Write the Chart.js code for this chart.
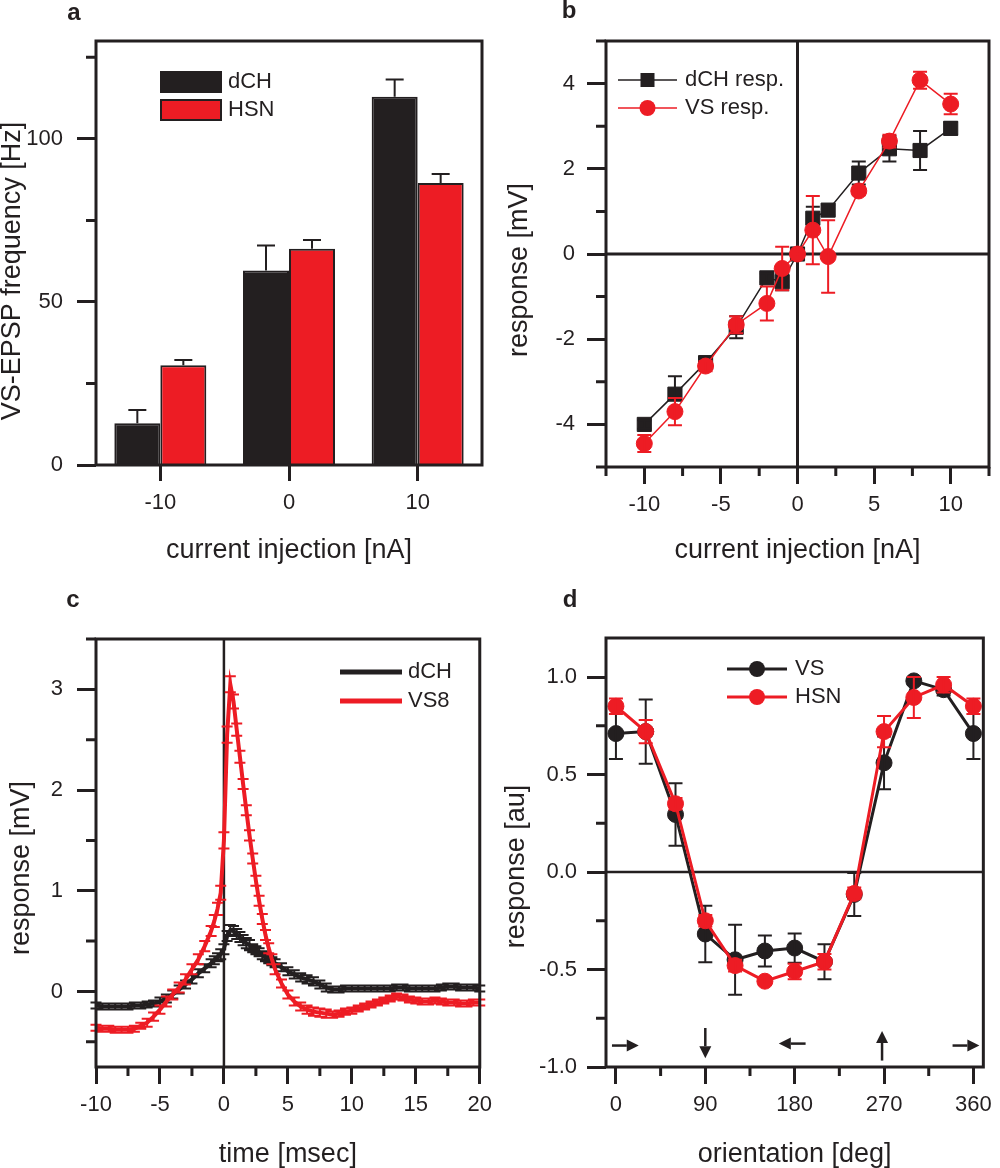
<!DOCTYPE html>
<html>
<head>
<meta charset="utf-8">
<title>Current injection and orientation responses</title>
<script src="https://cdn.jsdelivr.net/npm/chart.js@4.4.1/dist/chart.umd.min.js"></script>
<style>
  html, body { margin: 0; padding: 0; background: #fff; }
  #figure { position: relative; width: 1000px; height: 1168px; overflow: hidden; }
  #figure canvas { position: absolute; }
  #chartA { left: 0; top: 0; }
  #chartB { left: 500px; top: 0; }
  #chartC { left: 0; top: 580px; }
  #chartD { left: 500px; top: 580px; }
</style>
</head>
<body>
<div id="figure">
  <canvas id="chartA" width="500" height="580"></canvas>
  <canvas id="chartB" width="500" height="580"></canvas>
  <canvas id="chartC" width="500" height="588"></canvas>
  <canvas id="chartD" width="500" height="588"></canvas>
</div>
<script>
// --- a: VS-EPSP frequency vs current injection ---
const aCategories = ['-10', '0', '10'];
const aDch = [12.8, 59.6, 112.9];
const aDchErr = [4.1, 7.7, 5.3];
const aHsn = [30.6, 66.3, 86.5];
const aHsnErr = [1.6, 2.7, 2.7];
const aYTicks = [0, 50, 100];
const aYMinor = [25, 75, 125];

// --- b: responses vs current injection ---
const bCurrent = [-10, -8, -6, -4, -2, -1, 0, 1, 2, 4, 6, 8, 10];
const bDch = [-4.0, -3.29, -2.55, -1.72, -0.56, -0.65, 0, 0.84, 1.03, 1.9, 2.47, 2.43, 2.95];
const bDchErr = [0.1, 0.42, 0.1, 0.26, 0.1, 0.2, 0.05, 0.27, 0.12, 0.27, 0.3, 0.46, 0.15];
const bVs = [-4.45, -3.7, -2.63, -1.66, -1.16, -0.34, 0, 0.56, -0.06, 1.48, 2.65, 4.08, 3.52];
const bVsErr = [0.2, 0.32, 0.12, 0.2, 0.4, 0.51, 0.05, 0.8, 0.85, 0.1, 0.15, 0.2, 0.24];
const bXTicks = [-10, -5, 0, 5, 10];
const bXMinor = [-12.5, -7.5, -2.5, 2.5, 7.5, 12.5];
const bYTicks = [-4, -2, 0, 2, 4];
const bYMinor = [-5, -3, -1, 1, 3, 5];

// --- c: spike-triggered averages ---
const cTime = [-10, -9.5, -9, -8.5, -8, -7.5, -7, -6.5, -6, -5.5, -5, -4.5, -4, -3.5, -3, -2.5, -2, -1.5, -1,
  -0.75, -0.5, -0.25, 0, 0.25, 0.5, 0.75, 1, 1.25, 1.5, 1.75, 2, 2.25, 2.5, 2.75, 3, 3.25, 3.5, 3.75, 4,
  4.5, 5, 5.5, 6, 6.5, 7, 7.5, 8, 8.5, 9, 9.5, 10, 10.5, 11, 11.5, 12, 12.5, 13, 13.5, 14, 14.5, 15, 15.5,
  16, 16.5, 17, 17.5, 18, 18.5, 19, 19.5, 20];
const cDch = [-0.14, -0.15, -0.15, -0.15, -0.15, -0.15, -0.14, -0.14, -0.13, -0.12, -0.1, -0.07, -0.03, 0.02, 0.07, 0.12, 0.18, 0.23, 0.28,
  0.31, 0.34, 0.37, 0.42, 0.55, 0.61, 0.6, 0.57, 0.54, 0.51, 0.48, 0.46, 0.43, 0.41, 0.39, 0.36, 0.34, 0.32, 0.3, 0.28,
  0.24, 0.2, 0.17, 0.14, 0.12, 0.1, 0.07, 0.04, 0.02, 0.02, 0.03, 0.03, 0.03, 0.03, 0.03, 0.03, 0.03, 0.03, 0.04, 0.04, 0.03, 0.03, 0.03,
  0.03, 0.03, 0.04, 0.05, 0.05, 0.04, 0.04, 0.04, 0.03];
const cDchErr = [0.03, 0.03, 0.03, 0.03, 0.03, 0.03, 0.03, 0.03, 0.03, 0.03, 0.04, 0.04, 0.04, 0.04, 0.04, 0.04, 0.04, 0.04, 0.04,
  0.04, 0.04, 0.05, 0.05, 0.05, 0.05, 0.05, 0.05, 0.05, 0.05, 0.05, 0.05, 0.04, 0.04, 0.04, 0.04, 0.04, 0.04, 0.04, 0.04,
  0.04, 0.04, 0.04, 0.04, 0.04, 0.04, 0.04, 0.04, 0.03, 0.03, 0.03, 0.03, 0.03, 0.03, 0.03, 0.03, 0.03, 0.03, 0.03, 0.03, 0.03, 0.03, 0.03,
  0.03, 0.03, 0.03, 0.03, 0.03, 0.03, 0.03, 0.03, 0.03];
const cVs8 = [-0.36, -0.37, -0.37, -0.38, -0.38, -0.38, -0.37, -0.34, -0.31, -0.25, -0.18, -0.1, -0.03, 0.04, 0.12, 0.22, 0.32, 0.45, 0.6,
  0.7, 0.82, 0.98, 1.5, 2.55, 3.05, 2.88, 2.6, 2.33, 2.06, 1.8, 1.55, 1.32, 1.1, 0.9, 0.72, 0.56, 0.43, 0.32, 0.22,
  0.08, -0.03, -0.1, -0.15, -0.18, -0.2, -0.21, -0.22, -0.23, -0.22, -0.2, -0.19, -0.17, -0.15, -0.13, -0.11, -0.09, -0.07, -0.05, -0.06, -0.08, -0.09, -0.1,
  -0.1, -0.09, -0.1, -0.11, -0.11, -0.12, -0.12, -0.11, -0.11];
const cVs8Err = [0.03, 0.03, 0.03, 0.03, 0.03, 0.03, 0.03, 0.03, 0.04, 0.04, 0.04, 0.05, 0.05, 0.05, 0.05, 0.05, 0.05, 0.05, 0.05,
  0.06, 0.06, 0.07, 0.08, 0.08, 0.08, 0.07, 0.06, 0.06, 0.05, 0.05, 0.05, 0.05, 0.05, 0.05, 0.05, 0.05, 0.05, 0.05, 0.05,
  0.04, 0.04, 0.04, 0.04, 0.04, 0.04, 0.04, 0.04, 0.03, 0.03, 0.03, 0.03, 0.03, 0.03, 0.03, 0.03, 0.03, 0.03, 0.03, 0.03, 0.03, 0.03, 0.03,
  0.03, 0.03, 0.03, 0.03, 0.03, 0.03, 0.03, 0.03, 0.03];
const cXTicks = [-10, -5, 0, 5, 10, 15, 20];
const cXMinor = [-7.5, -2.5, 2.5, 7.5, 12.5, 17.5];
const cYTicks = [0, 1, 2, 3];
const cYMinor = [-0.5, 0.5, 1.5, 2.5, 3.5];

// --- d: orientation tuning ---
const dOrientation = [0, 30, 60, 90, 120, 150, 180, 210, 240, 270, 300, 330, 360];
const dVs = [0.71, 0.72, 0.295, -0.318, -0.45, -0.405, -0.39, -0.46, -0.115, 0.56, 0.98, 0.935, 0.71];
const dVsErr = [0.13, 0.165, 0.16, 0.145, 0.18, 0.08, 0.075, 0.09, 0.11, 0.135, 0.02, 0.03, 0.13];
const dHsn = [0.85, 0.72, 0.35, -0.25, -0.48, -0.56, -0.51, -0.46, -0.11, 0.72, 0.895, 0.96, 0.85];
const dHsnErr = [0.04, 0.06, 0.03, 0.03, 0.03, 0.02, 0.04, 0.04, 0.03, 0.08, 0.105, 0.04, 0.04];
const dXTicks = [0, 90, 180, 270, 360];
const dXMinor = [45, 135, 225, 315];
const dYTicks = [-1, -0.5, 0, 0.5, 1];
const dYMinor = [-0.75, -0.25, 0.25, 0.75];

const INK = '#231f20';
const RED = '#ed1c24';
const FONT = "'Liberation Sans', Arial, sans-serif";

Chart.defaults.font.family = FONT;
Chart.defaults.color = INK;
Chart.defaults.animation = false;

const points = (xs, ys) => xs.map((x, i) => ({ x: x, y: ys[i] }));

// error bars, drawn from each dataset's own errors array
function drawErrors(chart, args, layer) {
    const ds = chart.data.datasets[args.index];
    if (!ds.errors || (ds.errorLayer || 'after') !== layer) return;
    const { ctx } = chart;
    const yScale = chart.scales[args.meta.yAxisID];
    const half = ds.errorCap / 2;
    ctx.save();
    ctx.strokeStyle = ds.errorColor;
    ctx.lineWidth = ds.errorWidth;
    ctx.beginPath();
    args.meta.data.forEach((el, i) => {
        const v = args.meta.controller.getParsed(i).y;
        const top = yScale.getPixelForValue(v + ds.errors[i]);
        const bot = ds.errorUpOnly ? el.y : yScale.getPixelForValue(v - ds.errors[i]);
        ctx.moveTo(el.x, top); ctx.lineTo(el.x, bot);
        ctx.moveTo(el.x - half, top); ctx.lineTo(el.x + half, top);
        if (!ds.errorUpOnly) { ctx.moveTo(el.x - half, bot); ctx.lineTo(el.x + half, bot); }
    });
    ctx.stroke();
    ctx.restore();
}

const errorBarPlugin = {
    id: 'errorBars',
    beforeDatasetDraw(chart, args) { drawErrors(chart, args, 'before'); },
    afterDatasetDraw(chart, args) { drawErrors(chart, args, 'after'); }
};

function drawLegend(ctx, lg) {
    ctx.font = '22px ' + FONT;
    ctx.textAlign = 'left';
    ctx.textBaseline = 'middle';
    lg.items.forEach((it, i) => {
        const cy = lg.y + i * lg.gap;
        if (lg.kind === 'box') {
            ctx.fillStyle = it.color;
            ctx.fillRect(lg.x, cy - 10, lg.len, 20);
            ctx.lineWidth = 2;
            ctx.strokeStyle = INK;
            ctx.strokeRect(lg.x, cy - 10, lg.len, 20);
        } else {
            ctx.strokeStyle = it.color;
            ctx.lineWidth = lg.width;
            ctx.beginPath(); ctx.moveTo(lg.x, cy); ctx.lineTo(lg.x + lg.len, cy); ctx.stroke();
            ctx.fillStyle = it.color;
            const mx = lg.x + lg.len / 2;
            if (it.marker === 'rect') ctx.fillRect(mx - 7, cy - 7, 14, 14);
            if (it.marker === 'circle') { ctx.beginPath(); ctx.arc(mx, cy, 8, 0, Math.PI * 2); ctx.fill(); }
        }
        ctx.fillStyle = INK;
        ctx.fillText(it.label, lg.x + lg.len + lg.textGap, cy);
    });
}

// frame, minor ticks, zero lines, arrows, legend, y title and panel letter
const panelPlugin = {
    id: 'panel',
    beforeDatasetsDraw(chart, args, opts) {
        const { ctx, chartArea: area, scales } = chart;
        ctx.save();
        ctx.strokeStyle = INK;
        (opts.zeroLines || []).forEach(z => {
            ctx.lineWidth = z.width;
            ctx.beginPath();
            if (z.axis === 'x') {
                const px = scales.x.getPixelForValue(0);
                ctx.moveTo(px, area.top); ctx.lineTo(px, area.bottom);
            } else {
                const py = scales.y.getPixelForValue(0);
                ctx.moveTo(area.left, py); ctx.lineTo(area.right, py);
            }
            ctx.stroke();
        });
        ctx.restore();
    },
    afterDraw(chart, args, opts) {
        const { ctx, chartArea: area, scales: { x, y } } = chart;
        ctx.save();
        ctx.strokeStyle = INK;
        ctx.fillStyle = INK;
        ctx.lineWidth = 3;
        ctx.strokeRect(area.left, area.top, area.right - area.left, area.bottom - area.top);
        ctx.beginPath();
        (opts.minorX || []).forEach(v => {
            const px = x.getPixelForValue(v);
            ctx.moveTo(px, area.bottom); ctx.lineTo(px, area.bottom + 9);
        });
        (opts.minorY || []).forEach(v => {
            const py = y.getPixelForValue(v);
            ctx.moveTo(area.left, py); ctx.lineTo(area.left - 10, py);
        });
        ctx.stroke();

        (opts.arrows || []).forEach(([x1, y1, x2, y2]) => {
            const p1 = { x: x.getPixelForValue(x1), y: y.getPixelForValue(y1) };
            const p2 = { x: x.getPixelForValue(x2), y: y.getPixelForValue(y2) };
            const ang = Math.atan2(p2.y - p1.y, p2.x - p1.x);
            const head = 12, wing = 6;
            const bx = p2.x - head * Math.cos(ang), by = p2.y - head * Math.sin(ang);
            ctx.lineWidth = 2.5;
            ctx.beginPath(); ctx.moveTo(p1.x, p1.y); ctx.lineTo(bx, by); ctx.stroke();
            ctx.beginPath();
            ctx.moveTo(p2.x, p2.y);
            ctx.lineTo(bx - wing * Math.sin(ang), by + wing * Math.cos(ang));
            ctx.lineTo(bx + wing * Math.sin(ang), by - wing * Math.cos(ang));
            ctx.closePath();
            ctx.fill();
        });

        if (opts.legend) drawLegend(ctx, opts.legend);

        // vertical axis title, centred a little below the axis middle as in the original
        const t = opts.yTitle;
        ctx.fillStyle = INK;
        ctx.font = '27px ' + FONT;
        ctx.textAlign = 'center';
        ctx.textBaseline = 'middle';
        ctx.save();
        ctx.translate(t.x, (area.top + area.bottom) / 2 + t.shift);
        ctx.rotate(-Math.PI / 2);
        ctx.fillText(t.text, 0, 0);
        ctx.restore();

        ctx.font = 'bold 24px ' + FONT;
        ctx.fillText(opts.letter.text, opts.letter.x, opts.letter.y);
        ctx.restore();
    }
};

function axisX(o) {
    const axis = {
        type: o.type,
        afterFit: s => { s.height = o.size; },
        grid: { drawOnChartArea: false, drawTicks: true, tickLength: o.tick, tickWidth: 3, tickColor: INK, offset: false },
        border: { display: false },
        ticks: { padding: o.pad, font: { size: 22 }, color: INK, maxRotation: 0, autoSkip: false },
        title: { display: true, text: o.title, color: INK, font: { size: 27, lineHeight: 1 }, padding: { top: 0, bottom: o.titlePad } }
    };
    if (o.type === 'category') {
        axis.offset = true;
    } else {
        axis.min = o.min;
        axis.max = o.max;
        axis.afterBuildTicks = s => { s.ticks = o.major.map(v => ({ value: v })); };
    }
    if (o.format) axis.ticks.callback = o.format;
    return axis;
}

function axisY(o) {
    const axis = {
        type: 'linear',
        min: o.min,
        max: o.max,
        afterFit: s => { s.width = o.size; },
        afterBuildTicks: s => { s.ticks = o.major.map(v => ({ value: v })); },
        grid: { drawOnChartArea: false, drawTicks: true, tickLength: 19, tickWidth: 3, tickColor: INK },
        border: { display: false },
        ticks: { padding: o.pad, font: { size: 22 }, color: INK },
        title: { display: false }
    };
    if (o.format) axis.ticks.callback = o.format;
    return axis;
}

function baseOptions(padTop, padRight, panel) {
    return {
        responsive: false,
        layout: { padding: { top: padTop, right: padRight, left: 0, bottom: 0 } },
        plugins: { legend: { display: false }, tooltip: { enabled: false }, panel: panel }
    };
}

document.addEventListener('DOMContentLoaded', () => {

    // a. grouped bars with upward error bars
    new Chart(document.getElementById('chartA'), {
        type: 'bar',
        data: {
            labels: aCategories,
            datasets: [
                { label: 'dCH', data: aDch, backgroundColor: INK, borderColor: INK, borderWidth: 2,
                  errors: aDchErr, errorUpOnly: true, errorCap: 18, errorWidth: 2, errorColor: INK },
                { label: 'HSN', data: aHsn, backgroundColor: RED, borderColor: INK, borderWidth: 2,
                  errors: aHsnErr, errorUpOnly: true, errorCap: 18, errorWidth: 2, errorColor: INK }
            ]
        },
        options: {
            ...baseOptions(41, 18, {
                minorY: aYMinor,
                yTitle: { text: 'VS-EPSP frequency [Hz]', x: 13, shift: 18 },
                letter: { text: 'a', x: 74, y: 13 },
                legend: { kind: 'box', x: 161, y: 82, gap: 28, len: 60, textGap: 7,
                          items: [{ label: 'dCH', color: INK }, { label: 'HSN', color: RED }] }
            }),
            datasets: { bar: { categoryPercentage: 0.715, barPercentage: 1 } },
            scales: {
                x: axisX({ type: 'category', size: 115, tick: 16, pad: 9, title: 'current injection [nA]', titlePad: 16 }),
                y: axisY({ min: 0, max: 130, major: aYTicks, size: 96, pad: 14 })
            }
        },
        plugins: [panelPlugin, errorBarPlugin]
    });

    // b. current-response relations
    new Chart(document.getElementById('chartB'), {
        type: 'line',
        data: {
            datasets: [
                { label: 'dCH resp.', data: points(bCurrent, bDch), borderColor: INK, backgroundColor: INK, borderWidth: 1.5,
                  pointStyle: 'rect', pointRadius: 10, pointBorderWidth: 1, order: 1,
                  errors: bDchErr, errorCap: 14, errorWidth: 2, errorColor: INK },
                { label: 'VS resp.', data: points(bCurrent, bVs), borderColor: RED, backgroundColor: RED, borderWidth: 1.5,
                  pointStyle: 'circle', pointRadius: 8, pointBorderWidth: 1, order: 0,
                  errors: bVsErr, errorCap: 14, errorWidth: 2, errorColor: RED }
            ]
        },
        options: {
            ...baseOptions(41, 8, {
                minorX: bXMinor,
                minorY: bYMinor,
                zeroLines: [{ axis: 'x', width: 3 }, { axis: 'y', width: 3 }],
                yTitle: { text: 'response [mV]', x: 20, shift: 16 },
                letter: { text: 'b', x: 69, y: 11 },
                legend: { kind: 'line', x: 118, y: 80, gap: 28, len: 59, width: 1.5, textGap: 8,
                          items: [{ label: 'dCH resp.', color: INK, marker: 'rect' }, { label: 'VS resp.', color: RED, marker: 'circle' }] }
            }),
            scales: {
                x: axisX({ type: 'linear', min: -12.5, max: 12.5, major: bXTicks, size: 113, tick: 17, pad: 8, title: 'current injection [nA]', titlePad: 16 }),
                y: axisY({ min: -5, max: 5, major: bYTicks, size: 106, pad: 12 })
            }
        },
        plugins: [panelPlugin, errorBarPlugin]
    });

    // c. averaged responses around the spike
    new Chart(document.getElementById('chartC'), {
        type: 'line',
        data: {
            datasets: [
                { label: 'dCH', data: points(cTime, cDch), borderColor: INK, borderWidth: 4, pointRadius: 0, order: 1,
                  errors: cDchErr, errorLayer: 'before', errorCap: 11, errorWidth: 2, errorColor: INK },
                { label: 'VS8', data: points(cTime, cVs8), borderColor: RED, borderWidth: 4, pointRadius: 0, order: 0,
                  errors: cVs8Err, errorLayer: 'before', errorCap: 11, errorWidth: 2, errorColor: RED }
            ]
        },
        options: {
            ...baseOptions(59, 18, {
                minorX: cXMinor,
                minorY: cYMinor,
                zeroLines: [{ axis: 'x', width: 2.5 }],
                yTitle: { text: 'response [mV]', x: 22, shift: 15 },
                letter: { text: 'c', x: 73, y: 20 },
                legend: { kind: 'line', x: 340, y: 92, gap: 29, len: 62, width: 5, textGap: 6,
                          items: [{ label: 'dCH', color: INK }, { label: 'VS8', color: RED }] }
            }),
            scales: {
                x: axisX({ type: 'linear', min: -10, max: 20, major: cXTicks, size: 101, tick: 17, pad: 8, title: 'time [msec]', titlePad: 0 }),
                y: axisY({ min: -0.75, max: 3.5, major: cYTicks, size: 96, pad: 14 })
            }
        },
        plugins: [panelPlugin, errorBarPlugin]
    });

    // d. orientation tuning
    new Chart(document.getElementById('chartD'), {
        type: 'line',
        data: {
            datasets: [
                { label: 'VS', data: points(dOrientation, dVs), borderColor: INK, backgroundColor: INK, borderWidth: 3,
                  pointRadius: 8, pointBorderWidth: 1, order: 1,
                  errors: dVsErr, errorCap: 14, errorWidth: 2, errorColor: INK },
                { label: 'HSN', data: points(dOrientation, dHsn), borderColor: RED, backgroundColor: RED, borderWidth: 3,
                  pointRadius: 8, pointBorderWidth: 1, order: 0,
                  errors: dHsnErr, errorCap: 14, errorWidth: 2, errorColor: RED }
            ]
        },
        options: {
            ...baseOptions(58, 8, {
                minorX: dXMinor,
                minorY: dYMinor,
                zeroLines: [{ axis: 'y', width: 2.5 }],
                arrows: [[-4, -0.89, 23, -0.89], [90, -0.8, 90, -0.955], [191, -0.88, 164, -0.88], [268, -0.967, 268, -0.815], [339, -0.89, 366, -0.89]],
                yTitle: { text: 'response [au]', x: 17, shift: 14 },
                letter: { text: 'd', x: 70, y: 20 },
                legend: { kind: 'line', x: 227, y: 89, gap: 28, len: 60, width: 3, textGap: 8,
                          items: [{ label: 'VS', color: INK, marker: 'circle' }, { label: 'HSN', color: RED, marker: 'circle' }] }
            }),
            scales: {
                x: axisX({ type: 'linear', min: -10, max: 370, major: dXTicks, size: 101, tick: 17, pad: 8, title: 'orientation [deg]', titlePad: 0 }),
                y: axisY({ min: -1, max: 1.2, major: dYTicks, size: 106, pad: 10, format: v => v.toFixed(1) })
            }
        },
        plugins: [panelPlugin, errorBarPlugin]
    });
});
</script>
</body>
</html>
